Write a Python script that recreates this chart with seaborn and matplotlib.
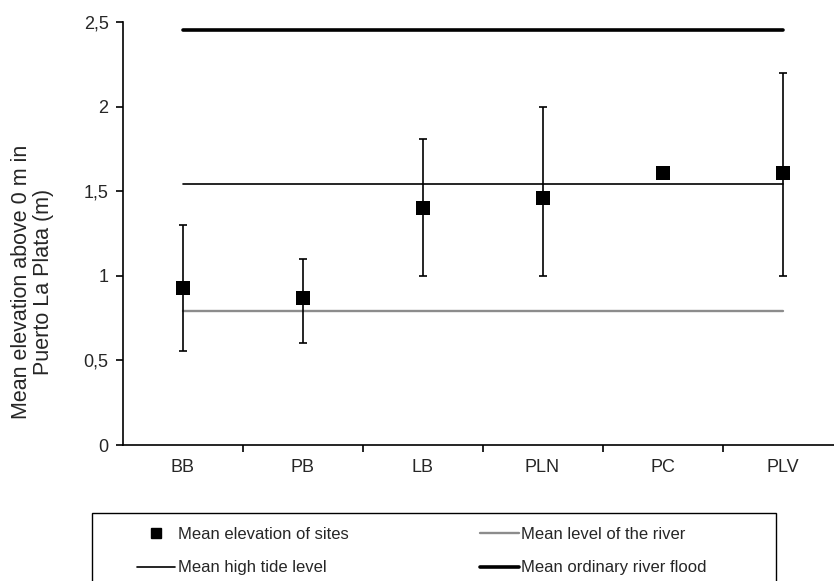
import matplotlib
matplotlib.use("Agg")
import matplotlib.pyplot as plt
import seaborn as sns
import numpy as np
import pandas as pd
from matplotlib.ticker import FixedLocator, FuncFormatter
from matplotlib.lines import Line2D
from matplotlib.patches import Rectangle

sites = ["BB", "PB", "LB", "PLN", "PC", "PLV"]
mean_elev = [0.93, 0.87, 1.40, 1.46, 1.61, 1.61]
err_low = [0.555, 0.60, 1.00, 1.00, np.nan, 1.00]
err_high = [1.30, 1.10, 1.81, 2.00, np.nan, 2.20]
river_level = 0.79
high_tide = 1.54
river_flood = 2.45
yticks = [0, 0.5, 1, 1.5, 2, 2.5]

sns.set_style("white")
plt.rcParams['font.family'] = ['Liberation Sans', 'DejaVu Sans']

df = pd.DataFrame({"site": sites, "mean": mean_elev, "lo": err_low, "hi": err_high})

W, H = 834, 581
fig = plt.figure(figsize=(W / 100, H / 100), dpi=100)
ax = fig.add_axes([122.5 / W, (H - 445) / H, 720 / W, 423 / H])

pos = np.arange(len(sites))
lower = df["mean"] - df["lo"]
upper = df["hi"] - df["mean"]
ax.errorbar(pos, df["mean"], yerr=[lower, upper], fmt="none", ecolor="black",
            elinewidth=1.2, capsize=3.0, capthick=1.2, zorder=3)

# horizontal reference lines
ax.plot([pos[0], pos[-1]], [river_level] * 2, color="#8c8c8c", lw=1.7, zorder=2)
ax.plot([pos[0], pos[-1]], [high_tide] * 2, color="black", lw=1.2, zorder=2)
ax.plot([pos[0], pos[-1]], [river_flood] * 2, color="black", lw=2.6, zorder=2)

sns.scatterplot(x=pos, y=df["mean"], marker="s", s=95, color="black",
                edgecolor="black", linewidth=0, ax=ax, zorder=4, legend=False)

ax.set_xlim(-0.5, 5.5)
ax.set_ylim(0, 2.5)
ax.set_xticks(pos)
ax.set_xticklabels(sites, fontsize=13)
ax.xaxis.set_minor_locator(FixedLocator(pos[:-1] + 0.5))
ax.tick_params(axis="x", which="major", length=0, pad=10)
ax.tick_params(axis="x", which="minor", length=5, width=1.2, direction="out", bottom=True, color="black")
ax.set_yticks(yticks)
ax.yaxis.set_major_formatter(FuncFormatter(lambda v, p: ("%g" % v).replace(".", ",")))
ax.tick_params(axis="y", which="major", length=5, width=1.2, direction="out", left=True,
               labelsize=13, pad=5, color="black")
ax.set_xlabel("")
ax.set_ylabel("Mean elevation above 0 m in\nPuerto La Plata (m)", fontsize=15.5, linespacing=1.05)
ax.yaxis.set_label_coords(-0.095, 0.385)

for side in ["top", "right"]:
    ax.spines[side].set_visible(False)
for side in ["left", "bottom"]:
    ax.spines[side].set_color("black")
    ax.spines[side].set_linewidth(1.2)

# legend box
fig.patches.append(Rectangle((92 / W, -10 / H), (776 - 92) / W, (H - 513 + 10) / H,
                             transform=fig.transFigure, fill=False, edgecolor="black",
                             linewidth=1.0))

handles = [
    Line2D([], [], marker="s", color="black", linestyle="none", markersize=7),
    Line2D([], [], color="black", lw=1.2),
    Line2D([], [], color="#8c8c8c", lw=1.7),
    Line2D([], [], color="black", lw=2.6),
]
labels = ["Mean elevation of sites", "Mean high tide level",
          "Mean level of the river", "Mean ordinary river flood"]
leg = fig.legend(handles, labels, ncol=2, loc="upper left",
                 bbox_to_anchor=(137 / W, 1 - 527 / H),
                 frameon=False, fontsize=12, handlelength=2.3, handletextpad=0.15,
                 borderpad=0, labelspacing=1.1, borderaxespad=0, columnspacing=7.9)

fig.savefig("out.png", dpi=100)
